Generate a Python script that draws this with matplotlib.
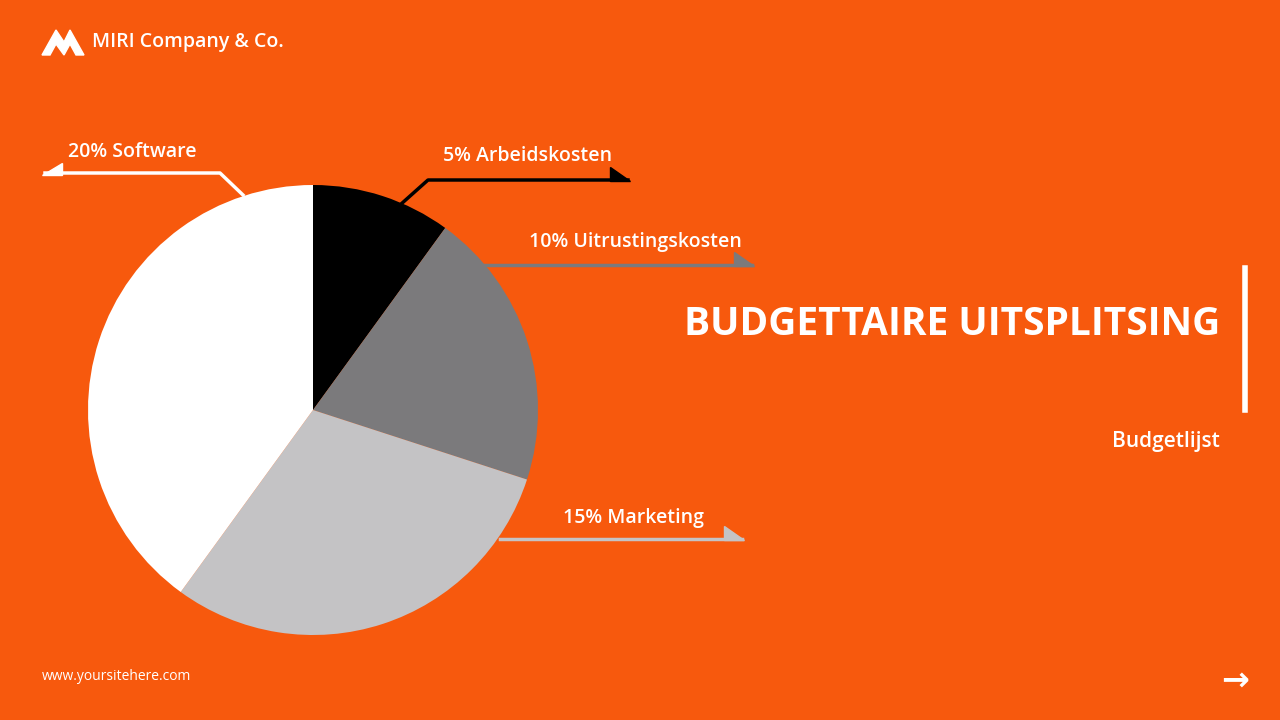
import matplotlib
matplotlib.use("Agg")
import matplotlib.pyplot as plt
from matplotlib.lines import Line2D
from matplotlib.patches import Polygon

labels = ["5% Arbeidskosten", "10% Uitrustingskosten", "15% Marketing", "20% Software"]
values = [5, 10, 15, 20]
colors = ["#000000", "#7b7a7c", "#c4c3c5", "#ffffff"]
bg = "#F7590D"
W, H = 1280, 720

plt.rcParams['font.family'] = ['Open Sans', 'DejaVu Sans']
fig = plt.figure(figsize=(12.8, 7.2), dpi=100, facecolor=bg)

def fx(x): return x / W
def fy(y): return 1 - y / H

ax = fig.add_axes([fx(88), (720 - 410 - 225) / H, 450 / W, 450 / H])
ax.pie(values, colors=colors, startangle=90, counterclock=False,
       wedgeprops=dict(linewidth=0))
ax.set_xlim(-1, 1); ax.set_ylim(-1, 1)
ax.set_aspect('equal')
ax.axis('off')

def leader(pts, color, tip, direction):
    xs = [fx(p[0]) for p in pts]; ys = [fy(p[1]) for p in pts]
    fig.add_artist(Line2D(xs, ys, color=color, lw=2.5, transform=fig.transFigure))
    tx, ty = tip
    if direction == 'left':
        tri = [(tx, ty), (tx + 20, ty), (tx + 20, ty - 12)]
    else:
        tri = [(tx, ty), (tx - 20, ty), (tx - 20, ty - 14)]
    fig.add_artist(Polygon([(fx(a), fy(b)) for a, b in tri], closed=True,
                           color=color, transform=fig.transFigure))

leader([(243, 195), (220, 173), (45, 173)], "white", (42, 175), 'left')
leader([(400, 205), (428, 180), (628, 180)], "black", (630, 181), 'right')
leader([(480, 265), (752, 265)], "#7b7a7c", (754, 266), 'right')
leader([(500, 539), (742, 539)], "#c4c3c5", (744, 540), 'right')

tk = dict(color="white", fontsize=14, fontweight='semibold', va='center', transform=fig.transFigure)
fig.text(fx(68), fy(152), labels[3], ha='left', **tk)
fig.text(fx(612), fy(156), labels[0], ha='right', **tk)
fig.text(fx(742), fy(242), labels[1], ha='right', **tk)
fig.text(fx(704), fy(518), labels[2], ha='right', **tk)

fig.text(fx(1220), fy(325), "BUDGETTAIRE UITSPLITSING", color="white", fontsize=28,
         fontweight='bold', ha='right', va='center')
fig.add_artist(Line2D([fx(1245)] * 2, [fy(268), fy(410)], color="white", lw=4))
fig.text(fx(1220), fy(441), "Budgetlijst", color="white", fontsize=15,
         fontweight='semibold', ha='right', va='center')

# logo
fig.add_artist(Polygon([(fx(a), fy(b)) for a, b in
                        [(42, 55), (56, 30), (64, 42), (70, 30), (84, 55), (76, 55), (70, 44), (64, 55), (56, 44), (50, 55)]],
                       closed=True, color="white"))
fig.text(fx(92), fy(42), "MIRI Company & Co.", color="white", fontsize=14,
         fontweight='semibold', ha='left', va='center')
fig.text(fx(42), fy(677), "www.yoursitehere.com", color="white", fontsize=10,
         ha='left', va='center')
fig.text(fx(1235), fy(680), "→", color="white", fontsize=24, fontweight='bold',
         ha='center', va='center', family='DejaVu Sans')

fig.savefig("out.png", facecolor=bg)
